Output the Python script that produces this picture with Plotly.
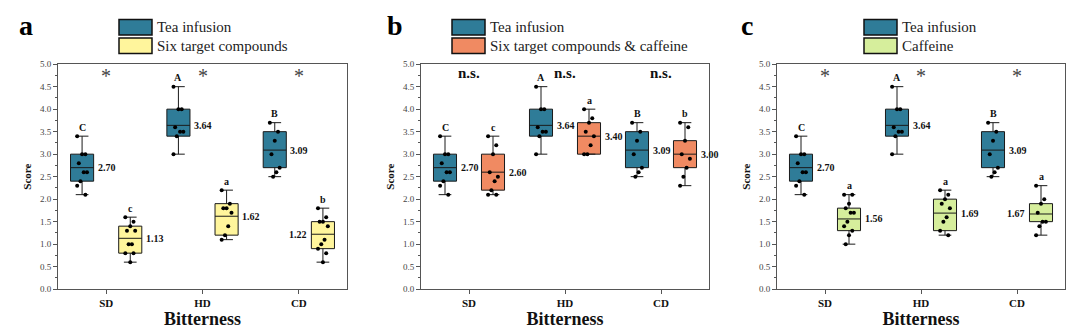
import plotly.graph_objects as go

categories = ["SD", "HD", "CD"]

# Tea infusion (same in all panels)
tea_q1 = [2.4, 3.4, 2.7]
tea_median = [2.70, 3.64, 3.09]
tea_q3 = [3.0, 4.0, 3.5]
tea_low = [2.1, 3.0, 2.5]
tea_high = [3.4, 4.5, 3.7]
tea_points = [
    [3.4, 3.0, 3.0, 2.8, 2.6, 2.6, 2.4, 2.3, 2.1],
    [4.5, 4.0, 4.0, 3.6, 3.5, 3.5, 3.4, 3.0],
    [3.7, 3.5, 3.3, 3.0, 2.7, 2.6, 2.5],
]
tea_letters = ["C", "A", "B"]

# Panel a: Six target compounds
six_q1 = [0.8, 1.2, 0.9]
six_median = [1.13, 1.62, 1.22]
six_q3 = [1.4, 1.9, 1.5]
six_low = [0.6, 1.1, 0.6]
six_high = [1.6, 2.2, 1.8]
six_points = [
    [1.6, 1.5, 1.4, 1.3, 1.3, 1.0, 1.0, 0.8, 0.8, 0.6],
    [2.2, 1.9, 1.8, 1.8, 1.7, 1.4, 1.2, 1.1],
    [1.8, 1.6, 1.5, 1.5, 1.4, 1.1, 1.0, 0.9, 0.8, 0.6],
]
six_letters = ["c", "a", "b"]

# Panel b: Six target compounds & caffeine
sixcaf_q1 = [2.2, 3.0, 2.7]
sixcaf_median = [2.60, 3.40, 3.00]
sixcaf_q3 = [3.0, 3.7, 3.3]
sixcaf_low = [2.1, 3.0, 2.3]
sixcaf_high = [3.4, 4.0, 3.7]
sixcaf_points = [
    [3.4, 3.2, 3.0, 2.6, 2.5, 2.4, 2.2, 2.1, 2.1],
    [4.0, 3.8, 3.7, 3.5, 3.4, 3.2, 3.0, 3.0],
    [3.7, 3.6, 3.3, 3.0, 2.9, 2.7, 2.5, 2.3],
]
sixcaf_letters = ["c", "a", "b"]

# Panel c: Caffeine
caf_q1 = [1.3, 1.3, 1.5]
caf_median = [1.56, 1.69, 1.67]
caf_q3 = [1.8, 2.0, 1.9]
caf_low = [1.0, 1.2, 1.2]
caf_high = [2.1, 2.2, 2.3]
caf_points = [
    [2.1, 2.1, 1.9, 1.8, 1.7, 1.7, 1.5, 1.4, 1.3, 1.2, 1.0],
    [2.2, 2.1, 2.0, 1.9, 1.8, 1.6, 1.5, 1.3, 1.2],
    [2.3, 2.0, 1.9, 1.7, 1.5, 1.5, 1.4, 1.2],
]
caf_letters = ["a", "a", "a"]

significance_a = ["*", "*", "*"]
significance_b = ["n.s.", "n.s.", "n.s."]
significance_c = ["*", "*", "*"]

TEA_COLOR = "#2F7C98"
FONT = "Liberation Serif"

panels = [
    dict(letter="a", dom=(58, 347), second="Six target compounds", color="#FFF59C",
         stats=(six_q1, six_median, six_q3, six_low, six_high, six_points, six_letters),
         sig=significance_a, leftlabel=[False, False, True], leg_x=119),
    dict(letter="b", dom=(421, 709), second="Six target compounds &amp; caffeine", color="#F08A62",
         stats=(sixcaf_q1, sixcaf_median, sixcaf_q3, sixcaf_low, sixcaf_high, sixcaf_points, sixcaf_letters),
         sig=significance_b, leftlabel=[False, False, False], leg_x=452),
    dict(letter="c", dom=(777, 1065), second="Caffeine", color="#D6EE9C",
         stats=(caf_q1, caf_median, caf_q3, caf_low, caf_high, caf_points, caf_letters),
         sig=significance_c, leftlabel=[False, False, True], leg_x=864),
]

W, H = 1080, 331
Y_TOP, Y_BOT = 61, 293
OFF = 0.25
BW = 0.24

fig = go.Figure()
annotations = []
shapes = []
layout = {}


def jitter(i):
    return (((i * 5) % 7) - 3) * 0.017


for p_i, p in enumerate(panels):
    sfx = "" if p_i == 0 else str(p_i + 1)
    xa, ya = "x" + sfx, "y" + sfx
    q1, med, q3, lo, hi, pts, lets = p["stats"]
    series = [
        (-OFF, TEA_COLOR, tea_q1, tea_median, tea_q3, tea_low, tea_high, tea_points, tea_letters, [False] * 3),
        (OFF, p["color"], q1, med, q3, lo, hi, pts, lets, p["leftlabel"]),
    ]
    for off, col, sq1, smed, sq3, slo, shi, spts, slet, sleft in series:
        xs = [c + off for c in range(len(categories))]
        fig.add_trace(go.Box(
            x=xs, q1=sq1, median=smed, q3=sq3, lowerfence=slo, upperfence=shi,
            width=BW, whiskerwidth=0.55, fillcolor=col,
            line=dict(color="#1a1a1a", width=1), boxpoints=False,
            xaxis=xa, yaxis=ya, showlegend=False, hoverinfo="skip",
        ))
        px, py = [], []
        for c, vals in enumerate(spts):
            for i, v in enumerate(vals):
                px.append(c + off + jitter(i))
                py.append(v)
        fig.add_trace(go.Scatter(
            x=px, y=py, mode="markers",
            marker=dict(color="black", size=4),
            xaxis=xa, yaxis=ya, showlegend=False, hoverinfo="skip",
        ))
        for c in range(len(categories)):
            annotations.append(dict(
                x=c + off, y=shi[c], xref=xa, yref=ya, text="<b>%s</b>" % slet[c],
                showarrow=False, yshift=9, font=dict(family=FONT, size=10, color="#111")))
            if sleft[c]:
                annotations.append(dict(
                    x=c + off - BW / 2, y=smed[c], xref=xa, yref=ya, text="<b>%.2f</b>" % smed[c],
                    showarrow=False, xanchor="right", xshift=-2,
                    font=dict(family=FONT, size=10, color="#111")))
            else:
                annotations.append(dict(
                    x=c + off + BW / 2, y=smed[c], xref=xa, yref=ya, text="<b>%.2f</b>" % smed[c],
                    showarrow=False, xanchor="left", xshift=2,
                    font=dict(family=FONT, size=10, color="#111")))
    for c, s in enumerate(p["sig"]):
        if s == "*":
            annotations.append(dict(x=c, y=4.80, xref=xa, yref=ya, text="*", showarrow=False,
                                    font=dict(family=FONT, size=20, color="#444"), yshift=-3))
        else:
            annotations.append(dict(x=c, y=4.80, xref=xa, yref=ya, text="<b>%s</b>" % s, showarrow=False,
                                    font=dict(family=FONT, size=15, color="#111")))

    x0, x1 = p["dom"]
    layout["xaxis" + sfx] = dict(
        domain=[x0 / W, x1 / W], anchor=ya, range=[-0.5, 2.5],
        tickvals=list(range(len(categories))), ticktext=["<b>%s</b>" % c for c in categories],
        ticks="outside", ticklen=4, tickcolor="#555", showline=True, linecolor="#555", linewidth=1,
        mirror=True, showgrid=False, zeroline=False,
        tickfont=dict(family=FONT, size=11, color="#111"),
        title=dict(text="<b>Bitterness</b>", font=dict(family=FONT, size=18, color="#111"), standoff=4),
    )
    layout["yaxis" + sfx] = dict(
        domain=[1 - Y_BOT / H, 1 - Y_TOP / H], anchor=xa, range=[0, 5],
        tickvals=[0, 0.5, 1, 1.5, 2, 2.5, 3, 3.5, 4, 4.5, 5],
        ticktext=["0.0", "0.5", "1.0", "1.5", "2.0", "2.5", "3.0", "3.5", "4.0", "4.5", "5.0"],
        ticks="outside", ticklen=4, tickcolor="#555",
        minor=dict(tickvals=[0.25 + 0.5 * k for k in range(10)], ticks="outside", ticklen=2, tickcolor="#555"),
        showline=True, linecolor="#555", linewidth=1, mirror=True, showgrid=False, zeroline=False,
        tickfont=dict(family=FONT, size=9, color="#444"),
        title=dict(text="<b>Score</b>", font=dict(family=FONT, size=11, color="#111"), standoff=6),
    )
    # panel letter
    annotations.append(dict(x=(x0 - 41 if p_i == 0 else x0 - 36 if p_i == 1 else x0 - 38) / W, y=1 - 21 / H,
                            xref="paper", yref="paper", text="<b>%s</b>" % p["letter"], showarrow=False,
                            xanchor="left", yanchor="middle",
                            font=dict(family=FONT, size=28, color="black")))
    # legend
    lx = p["leg_x"]
    for k, (lab, col) in enumerate([("Tea infusion", TEA_COLOR), (p["second"], p["color"])]):
        top = 15 + k * 19
        shapes.append(dict(type="rect", xref="paper", yref="paper",
                           x0=lx / W, x1=(lx + 33) / W, y0=1 - (top + 16) / H, y1=1 - top / H,
                           fillcolor=col, line=dict(color="#111", width=1.5)))
        annotations.append(dict(x=(lx + 36) / W, y=1 - (top + 8) / H, xref="paper", yref="paper",
                                text=lab, showarrow=False, xanchor="left", yanchor="middle",
                                font=dict(family=FONT, size=15, color="#222")))

fig.update_layout(
    width=W, height=H, margin=dict(l=0, r=0, t=0, b=0),
    paper_bgcolor="white", plot_bgcolor="white",
    annotations=annotations, shapes=shapes, showlegend=False, **layout,
)

fig.write_html("out.html")
